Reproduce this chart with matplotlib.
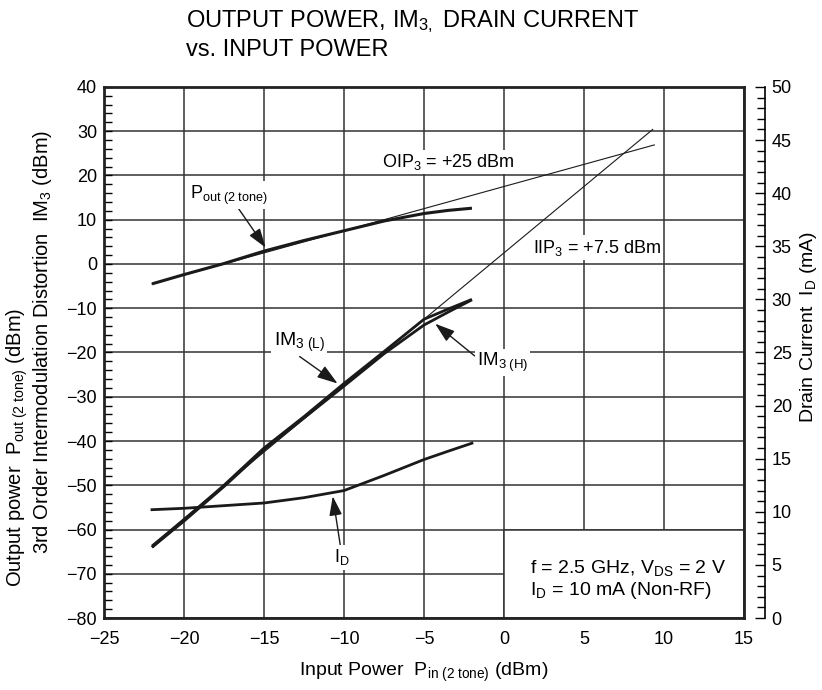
# imports
import matplotlib
matplotlib.use("Agg")
import matplotlib.pyplot as plt
from matplotlib.patches import Rectangle
from matplotlib.ticker import MultipleLocator

plt.rcParams['font.family'] = ['Liberation Sans', 'DejaVu Sans']
plt.rcParams['mathtext.fontset'] = 'custom'
plt.rcParams['mathtext.rm'] = 'Liberation Sans'
plt.rcParams['mathtext.it'] = 'Liberation Sans:italic'
plt.rcParams['mathtext.bf'] = 'Liberation Sans:bold'

# data
pin = [-22, -20, -17.5, -15, -12.5, -10, -7.5, -5, -3.5, -2]
pout = [-4.5, -2.4, 0.1, 2.9, 5.3, 7.5, 9.7, 11.4, 12.1, 12.6]
im3_l = [-64, -57.8, -50.0, -41.6, -34.5, -27.0, -19.8, -12.5, -10.2, -8.0]
im3_h = [-64, -58.1, -50.3, -42.0, -34.8, -27.6, -20.3, -13.8, -10.9, -8.1]
id_ma = [10.2, 10.33, 10.58, 10.83, 11.33, 12.0, 13.42, 14.92, 15.7, 16.46]

# extrapolated (thin) lines
oip3_x = [-22, 9.4]
oip3_y = [-4.5, 26.9]
iip3_x = [-22, 9.3]
iip3_y = [-63.5, 30.4]

fig = plt.figure(figsize=(8.22, 6.9), dpi=100)
ax = fig.add_axes([0.1265, 0.1043, 0.7785, 0.7697])

ax.set_xlim(-25, 15)
ax.set_ylim(-80, 40)
ax.set_axisbelow(True)
ax.xaxis.set_major_locator(MultipleLocator(5))
ax.yaxis.set_major_locator(MultipleLocator(10))
ax.yaxis.set_minor_locator(MultipleLocator(2))
ax.grid(True, which='major', color='#333333', lw=1.1)
ax.tick_params(axis='y', which='both', direction='in', labelsize=13, pad=5,
               length=6, width=1.0)
ax.tick_params(axis='x', which='both', length=0, labelsize=13, pad=9)
for s in ax.spines.values():
    s.set_linewidth(2.0)
    s.set_color('#222222')

# white box for the conditions text
ax.add_patch(Rectangle((0, -80), 15, 20, facecolor='white', edgecolor='#333333',
                       lw=1.1, zorder=1))

lc = '#1a1a1a'
ax.plot(oip3_x, oip3_y, color=lc, lw=0.8, zorder=3)
ax.plot(iip3_x, iip3_y, color=lc, lw=0.8, zorder=3)
ax.plot(pin, pout, color=lc, lw=2.2, zorder=4, solid_capstyle='butt')
ax.plot(pin, im3_l, color=lc, lw=2.0, zorder=4, solid_capstyle='butt')
ax.plot(pin, im3_h, color=lc, lw=2.0, zorder=4, solid_capstyle='butt')

ax2 = ax.twinx()
ax2.set_ylim(0, 50)
ax2.yaxis.set_major_locator(MultipleLocator(5))
ax2.yaxis.set_minor_locator(MultipleLocator(1))
ax2.spines['right'].set_position(('outward', 15))
ax2.spines['right'].set_linewidth(1.2)
for k in ['top', 'left', 'bottom']:
    ax2.spines[k].set_visible(False)
ax2.tick_params(axis='y', which='both', direction='in', labelsize=13, pad=5,
                width=1.0)
ax2.tick_params(axis='y', which='major', length=7.5)
ax2.tick_params(axis='y', which='minor', length=6)
ax2.plot(pin, id_ma, color=lc, lw=2.0, zorder=4)

# annotations
bbox = dict(facecolor='white', edgecolor='none', pad=1.5)
aprops = dict(arrowstyle='-|>,head_length=0.9,head_width=0.3', color=lc, lw=1.0,
              shrinkA=0, shrinkB=0)
ax.annotate(r'P$_{\mathrm{out\ (2\ tone)}}$', xy=(-14.9, 3.7), xytext=(-19.6, 15.6),
            fontsize=13, va='center', ha='left', bbox=bbox, zorder=6,
            arrowprops=dict(aprops, relpos=(0.6, 0)))
ax.annotate(r'IM$_{\mathrm{3\ (L)}}$', xy=(-10.4, -27), xytext=(-14.4, -17.8),
            fontsize=14, va='center', ha='left', bbox=bbox, zorder=6,
            arrowprops=dict(aprops, relpos=(0.45, 0)))
ax.annotate(r'IM$_{\mathrm{3\ (H)}}$', xy=(-4.3, -13.5), xytext=(-1.7, -22.2),
            fontsize=13.5, va='center', ha='left', bbox=bbox, zorder=6,
            arrowprops=dict(aprops, relpos=(0, 0.7)))
ax.annotate(r'I$_{\mathrm{D}}$', xy=(-10.7, -52.5), xytext=(-10.6, -66.3),
            fontsize=13, va='center', ha='left', bbox=bbox, zorder=6,
            arrowprops=dict(aprops, relpos=(0.4, 1)))
ax.text(-7.6, 23, r'OIP$_{\mathrm{3}}$ = +25 dBm', fontsize=13, va='center',
        ha='left', bbox=bbox, zorder=5)
ax.text(1.8, 3.7, r'IIP$_{\mathrm{3}}$ = +7.5 dBm', fontsize=13, va='center',
        ha='left', bbox=bbox, zorder=5)
ax.text(1.6, -71.3, 'f = 2.5 GHz, V$_{\\mathrm{DS}}$ = 2 V\nI$_{\\mathrm{D}}$ = 10 mA (Non-RF)',
        fontsize=14, va='center', ha='left', linespacing=1.1, zorder=5)

# titles and axis labels
fig.text(0.226, 0.988, 'OUTPUT POWER, IM$_{\\mathrm{3,}}$ DRAIN CURRENT\nvs. INPUT POWER',
         fontsize=17, va='top', ha='left', linespacing=1.25)
fig.text(0.516, 0.025, r'Input Power  P$_{\mathrm{in\ (2\ tone)}}$ (dBm)',
         fontsize=14, ha='center', va='center')
fig.text(0.021, 0.351, r'Output power  P$_{\mathrm{out\ (2\ tone)}}$ (dBm)',
         fontsize=14.5, rotation=90, ha='center', va='center')
fig.text(0.052, 0.504, r'3rd Order Intermodulation Distortion  IM$_{\mathrm{3}}$ (dBm)',
         fontsize=14.5, rotation=90, ha='center', va='center')
fig.text(0.983, 0.527, r'Drain Current  I$_{\mathrm{D}}$ (mA)',
         fontsize=14, rotation=90, ha='center', va='center')

fig.savefig('out.png', dpi=100)
